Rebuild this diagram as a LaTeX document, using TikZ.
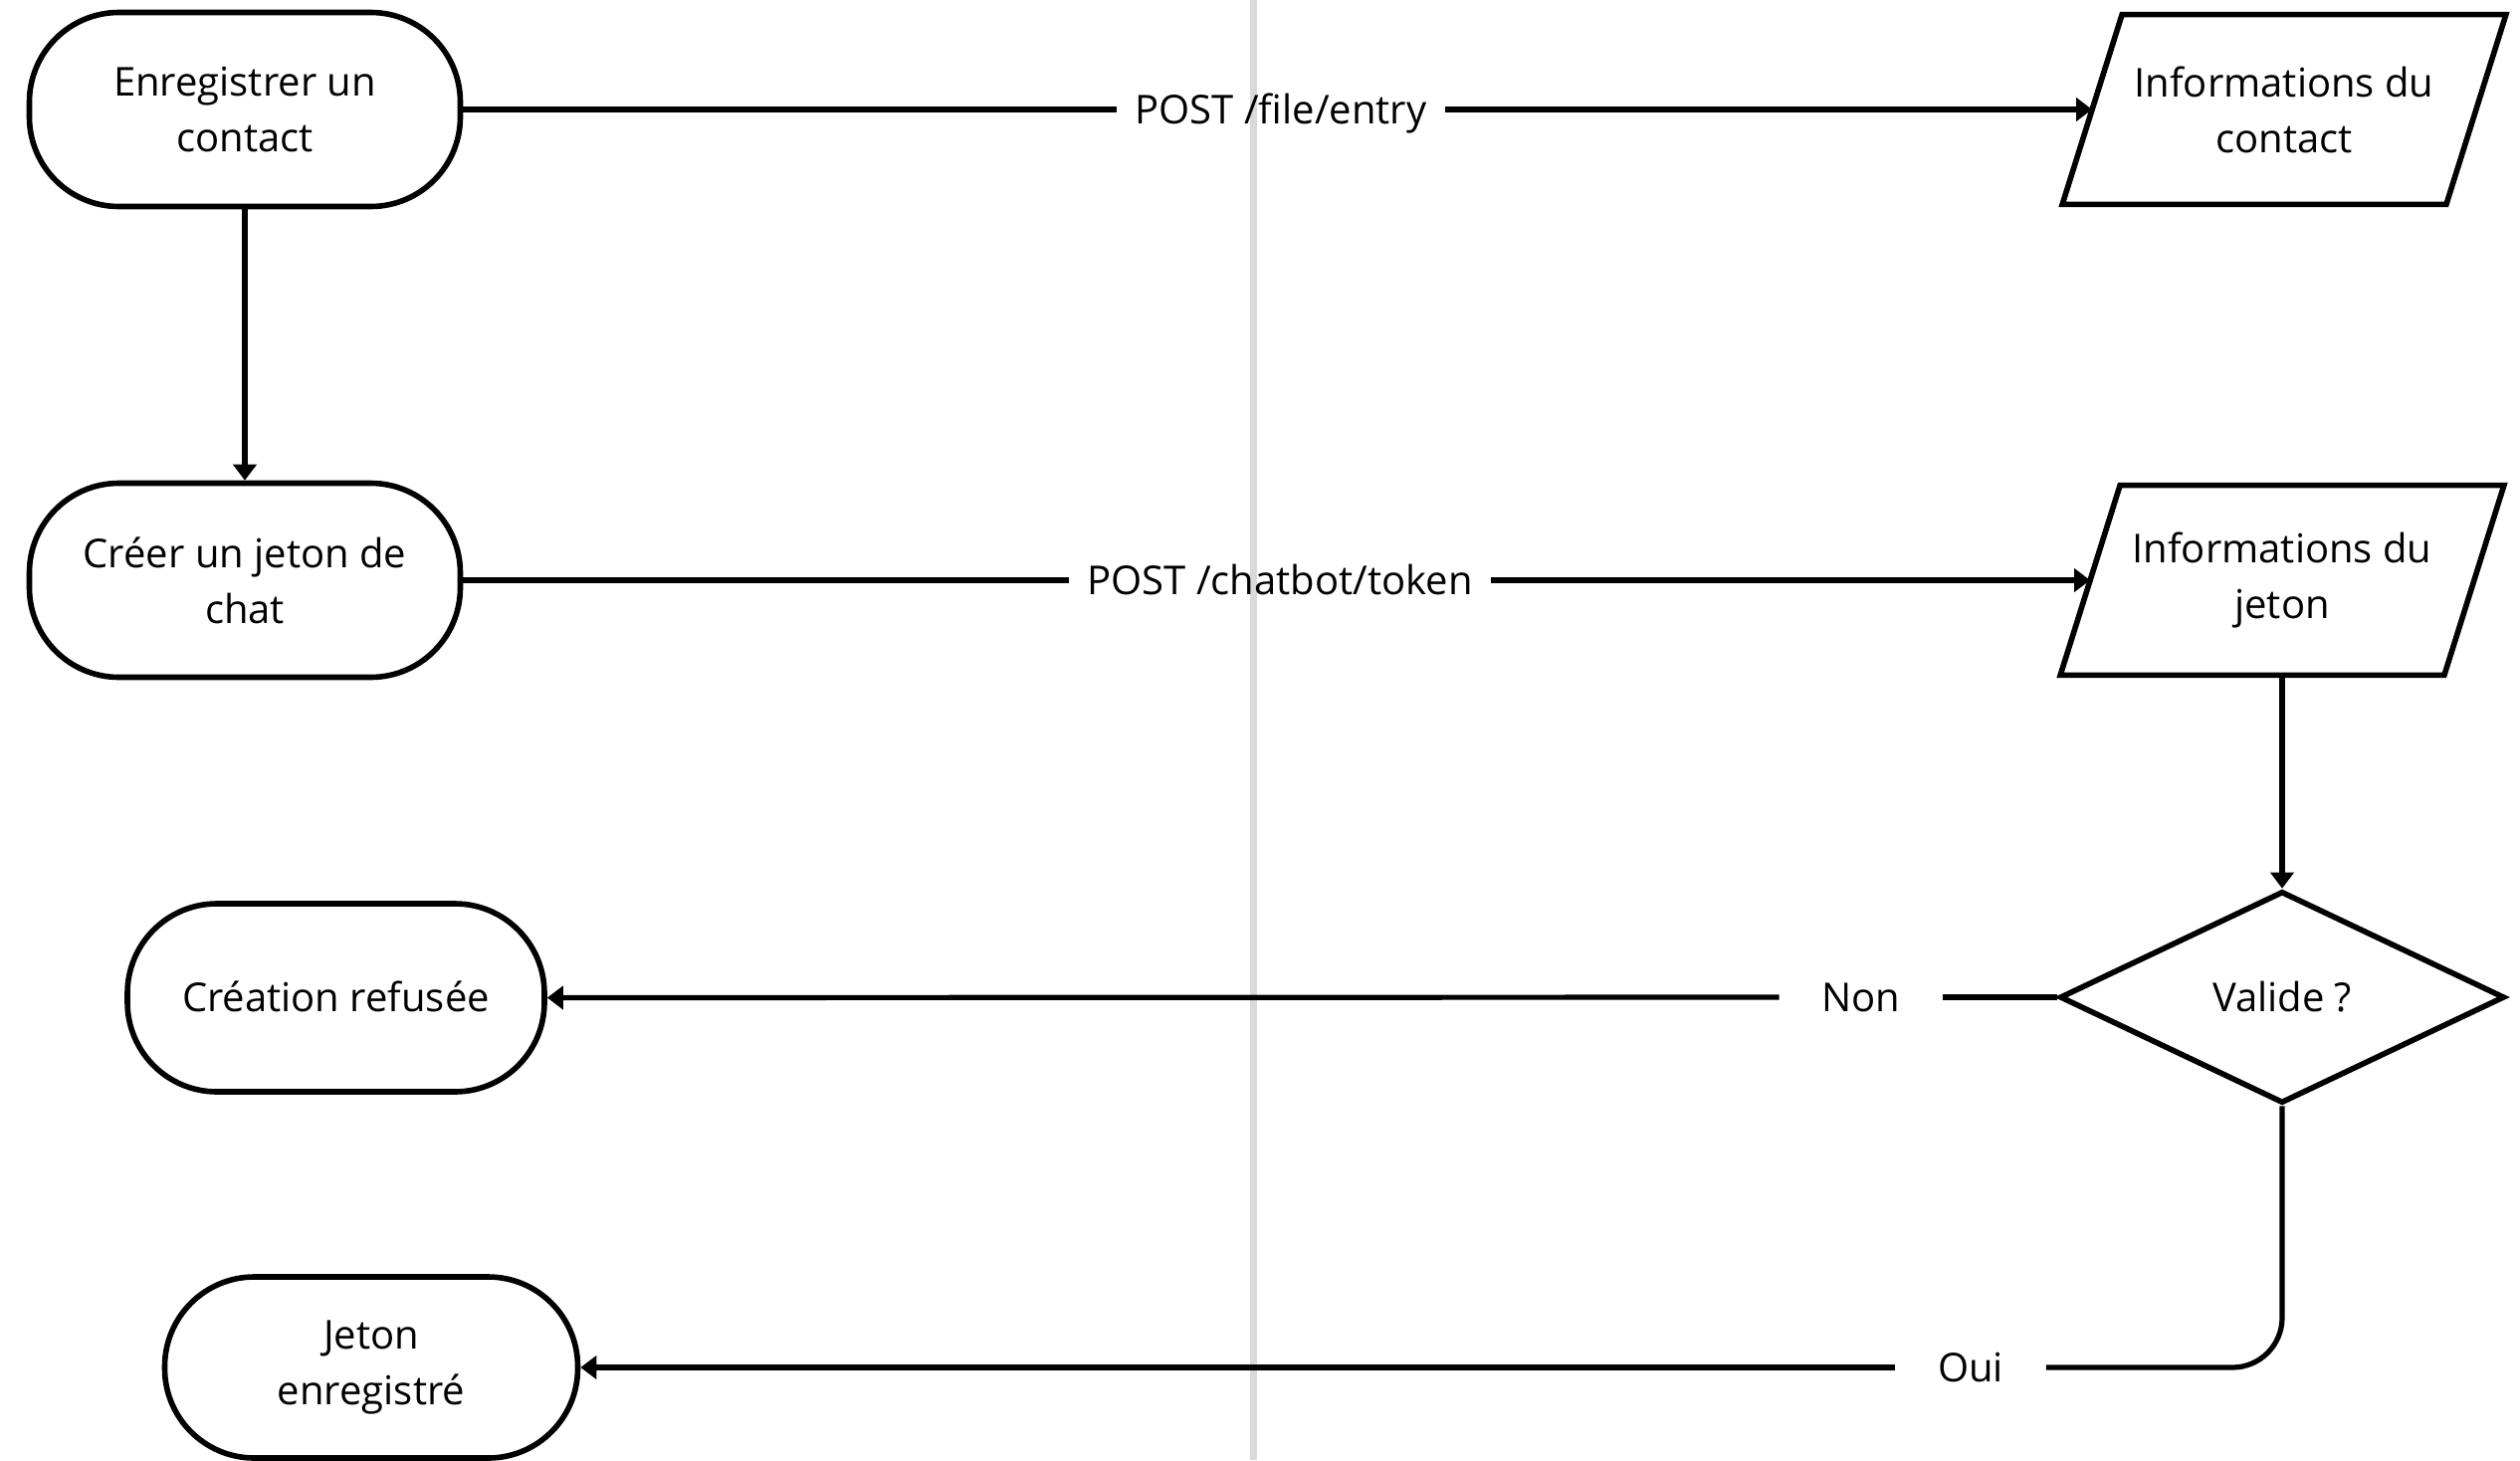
\documentclass[tikz,border=0pt]{standalone}
\usepackage{fontspec}
\setmainfont{Open Sans}
\usetikzlibrary{arrows.meta,shapes.geometric}
\definecolor{lanegray}{RGB}{217,217,217}
\begin{document}
\begin{tikzpicture}[x=0.5pt,y=-0.5pt,
  every node/.style={font=\fontsize{20}{28}\selectfont, text=black},
  term/.style={draw, line width=2.8pt, rounded corners=45pt, align=center, inner sep=0pt},
  oneline/.style={text height=14.3pt, text depth=0pt},
  iobox/.style={align=center, inner sep=0pt, minimum width=192.5pt, minimum height=95pt},
  iodraw/.style={line width=2.8pt, line join=miter},
  decision/.style={draw, diamond, line width=2.8pt, inner sep=0pt, minimum width=223.5pt, minimum height=106.5pt, oneline},
  lbl/.style={inner ysep=0pt, inner xsep=9pt, oneline},
  conn/.style={line width=2.6pt},
  arr/.style={conn, -{Triangle[length=8pt,width=11.5pt]}},
]
\fill[white] (0,0) rectangle (2532,1467);
\useasboundingbox (0,0) rectangle (2532,1467);

% lane divider
\draw[lanegray, line width=3.5pt] (1259,0) -- (1259,1467);

% terminals
\node[term, minimum width=216.5pt, minimum height=97.5pt] (n1) at (246,110) {Enregistrer un\\contact};
\node[term, minimum width=216.5pt, minimum height=97.5pt] (n2) at (246,583) {Créer un jeton de\\chat};
\node[term, oneline, minimum width=209.5pt, minimum height=94.5pt] (n3) at (337.5,1002.5) {Création refusée};
\node[term, minimum width=207.5pt, minimum height=91pt] (n4) at (373,1374) {Jeton\\enregistré};

% data (parallelograms)
\node[iobox] (p1) at (2295,110) {Informations du\\contact};
\draw[iodraw] ([xshift=15pt]p1.north west) -- ([xshift=15pt]p1.north east) -- ([xshift=-15pt]p1.south east) -- ([xshift=-15pt]p1.south west) -- cycle;
\node[iobox] (p2) at (2293,583) {Informations du\\jeton};
\draw[iodraw] ([xshift=15pt]p2.north west) -- ([xshift=15pt]p2.north east) -- ([xshift=-15pt]p2.south east) -- ([xshift=-15pt]p2.south west) -- cycle;

% decision
\node[decision] (dia) at (2293,1002) {Valide ?};

% labels
\node[lbl] (l1) at (1287,110) {POST /file/entry};
\node[lbl] (l2) at (1286,583) {POST /chatbot/token};
\node[oneline, inner sep=0pt, minimum width=82pt] (l3) at (1870,1002) {Non};
\node[oneline, inner sep=0pt, minimum width=75.5pt] (l4) at (1980,1374) {Oui};

% connectors
\draw[conn] (n1.east) -- (l1.west);
\draw[arr] (l1.east) -- (p1.west);
\draw[arr] (n1.south) -- (n2.north);
\draw[conn] (n2.east) -- (l2.west);
\draw[arr] (l2.east) -- (p2.west);
\draw[arr] (p2.south) -- (dia.north);
\draw[conn] (dia.west) -- (l3.east);
\draw[arr] (l3.west) -- (n3.east);
\draw[conn, rounded corners=25pt] (dia.south) |- (l4.east);
\draw[arr] (l4.west) -- (n4.east);
\end{tikzpicture}
\end{document}
